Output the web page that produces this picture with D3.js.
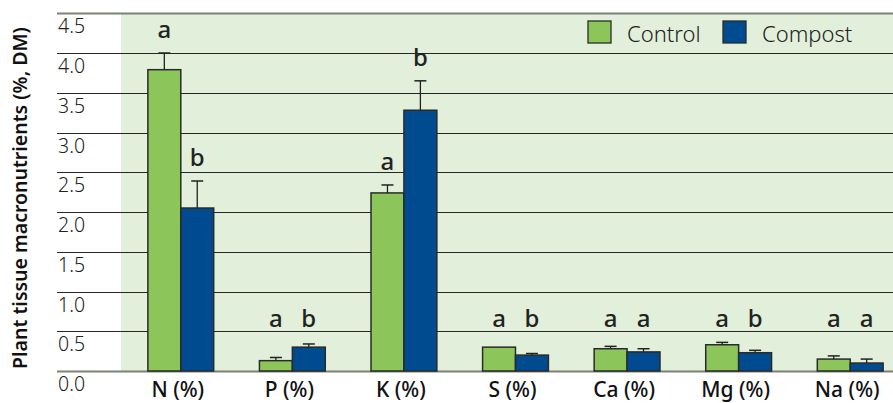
<!DOCTYPE html>
<html>
<head>
<meta charset="utf-8">
<script src="https://cdn.jsdelivr.net/npm/d3@7"></script>
<style>
  body { margin: 0; background: #fff; }
  svg { display: block; }
</style>
</head>
<body>
<script>
// Width and height of svg
var w = 893;
var h = 403;

// Chart data
var nutrients = ["N (%)", "P (%)", "K (%)", "S (%)", "Ca (%)", "Mg (%)", "Na (%)"];
var series = ["Control", "Compost"];
var controlVals = [3.79, 0.13, 2.24, 0.30, 0.28, 0.33, 0.15];
var compostVals = [2.05, 0.30, 3.28, 0.20, 0.24, 0.23, 0.10];
var controlErr = [0.21, 0.04, 0.10, 0.00, 0.03, 0.03, 0.04];
var compostErr = [0.34, 0.04, 0.37, 0.02, 0.04, 0.03, 0.05];
var controlLetters = ["a", "a", "a", "a", "a", "a", "a"];
var compostLetters = ["b", "b", "b", "b", "a", "b", "a"];
var yTicks = [0, 0.5, 1.0, 1.5, 2.0, 2.5, 3.0, 3.5, 4.0, 4.5];

var colors = { Control: "#8cc65a", Compost: "#004a8f" };

// Build a table of rows from the arrays
var rows = nutrients.map(function(n, i) {
    return {
        name: n,
        bars: [
            { s: "Control", v: controlVals[i], e: controlErr[i], l: controlLetters[i] },
            { s: "Compost", v: compostVals[i], e: compostErr[i], l: compostLetters[i] }
        ]
    };
});

var svg = d3.select("body").append("svg")
    .attr("width", w)
    .attr("height", h);

// Scales
var y = d3.scaleLinear()
    .domain([0, 4.0])
    .range([371, 53]);

var x0 = d3.scaleBand()
    .domain(nutrients)
    .range([125, 906])
    .paddingInner(0.41)
    .paddingOuter(0.205);

var x1 = d3.scaleBand()
    .domain(series)
    .range([0, x0.bandwidth()]);

// Green plot background
svg.append("rect")
    .attr("x", 121)
    .attr("y", y(4.5))
    .attr("width", w - 121)
    .attr("height", y(0) - y(4.5))
    .attr("fill", "#e2efda");

// Gridlines
svg.selectAll("line.grid")
    .data(yTicks)
    .enter().append("line")
    .attr("class", "grid")
    .attr("x1", 57)
    .attr("x2", w)
    .attr("y1", function(d) { return Math.round(y(d)) + 0.5; })
    .attr("y2", function(d) { return Math.round(y(d)) + 0.5; })
    .attr("stroke", function(d) { return (d === 0 || d === 4.5) ? "#7c8273" : "#262626"; })
    .attr("stroke-width", function(d) { return (d === 0 || d === 4.5) ? 2 : 1.2; });

// Y tick labels (sit below their gridline, as in the original)
svg.selectAll("text.ytick")
    .data(yTicks)
    .enter().append("text")
    .attr("class", "ytick")
    .attr("x", 58)
    .attr("y", function(d) { return y(d) + 20; })
    .attr("font-family", "'Noto Sans', sans-serif")
    .attr("font-weight", 300)
    .attr("font-size", 19.5)
    .attr("fill", "#222")
    .text(function(d) { return d3.format(".1f")(d); });

// Y axis title
svg.append("text")
    .attr("transform", "translate(27," + 198 + ") rotate(-90)")
    .attr("text-anchor", "middle")
    .attr("font-family", "'Noto Sans', sans-serif")
    .attr("font-weight", 600)
    .attr("font-size", 19.5)
    .attr("fill", "#111")
    .text("Plant tissue macronutrients (%, DM)");

// Bars
var groups = svg.selectAll("g.grp")
    .data(rows)
    .enter().append("g")
    .attr("class", "grp")
    .attr("transform", function(d) { return "translate(" + x0(d.name) + ",0)"; });

groups.selectAll("rect")
    .data(function(d) { return d.bars; })
    .enter().append("rect")
    .attr("x", function(d) { return x1(d.s); })
    .attr("y", function(d) { return y(d.v); })
    .attr("width", x1.bandwidth())
    .attr("height", function(d) { return y(0) - y(d.v); })
    .attr("fill", function(d) { return colors[d.s]; })
    .attr("stroke", "#2a2a2a")
    .attr("stroke-width", 1.5);

// Error bars
var err = groups.selectAll("g.err")
    .data(function(d) { return d.bars.filter(function(b) { return b.e > 0; }); })
    .enter().append("g")
    .attr("class", "err");

err.append("line")
    .attr("x1", function(d) { return x1(d.s) + x1.bandwidth() / 2; })
    .attr("x2", function(d) { return x1(d.s) + x1.bandwidth() / 2; })
    .attr("y1", function(d) { return y(d.v); })
    .attr("y2", function(d) { return y(d.v + d.e); })
    .attr("stroke", "#222")
    .attr("stroke-width", 1.3);

err.append("line")
    .attr("x1", function(d) { return x1(d.s) + x1.bandwidth() / 2 - 6; })
    .attr("x2", function(d) { return x1(d.s) + x1.bandwidth() / 2 + 6; })
    .attr("y1", function(d) { return y(d.v + d.e); })
    .attr("y2", function(d) { return y(d.v + d.e); })
    .attr("stroke", "#222")
    .attr("stroke-width", 1.5);

// Significance letters
groups.selectAll("text.sig")
    .data(function(d) { return d.bars; })
    .enter().append("text")
    .attr("class", "sig")
    .attr("x", function(d) { return x1(d.s) + x1.bandwidth() / 2; })
    .attr("y", function(d) { return Math.min(y(d.v + d.e) - 15, 327); })
    .attr("text-anchor", "middle")
    .attr("font-family", "'Noto Sans', sans-serif")
    .attr("font-weight", 500)
    .attr("font-size", 24)
    .attr("fill", "#222")
    .text(function(d) { return d.l; });

// X labels
svg.selectAll("text.xlab")
    .data(nutrients)
    .enter().append("text")
    .attr("class", "xlab")
    .attr("x", function(d) { return x0(d) + x0.bandwidth() / 2 - 3; })
    .attr("y", 397)
    .attr("text-anchor", "middle")
    .attr("font-family", "'Noto Sans', sans-serif")
    .attr("font-weight", 500)
    .attr("font-size", 21)
    .attr("fill", "#111")
    .text(function(d) { return d; });

// Legend
var legend = svg.selectAll("g.leg")
    .data(series)
    .enter().append("g")
    .attr("class", "leg")
    .attr("transform", function(d, i) { return "translate(" + (588 + i * 135) + ",21)"; });

legend.append("rect")
    .attr("width", 23)
    .attr("height", 22)
    .attr("fill", function(d) { return colors[d]; })
    .attr("stroke", "#2a2a2a")
    .attr("stroke-width", 1.3);

legend.append("text")
    .attr("x", 39)
    .attr("y", 21)
    .attr("font-family", "'Noto Sans', sans-serif")
    .attr("font-weight", 300)
    .attr("font-size", 22)
    .attr("fill", "#222")
    .text(function(d) { return d; });
</script>
</body>
</html>
